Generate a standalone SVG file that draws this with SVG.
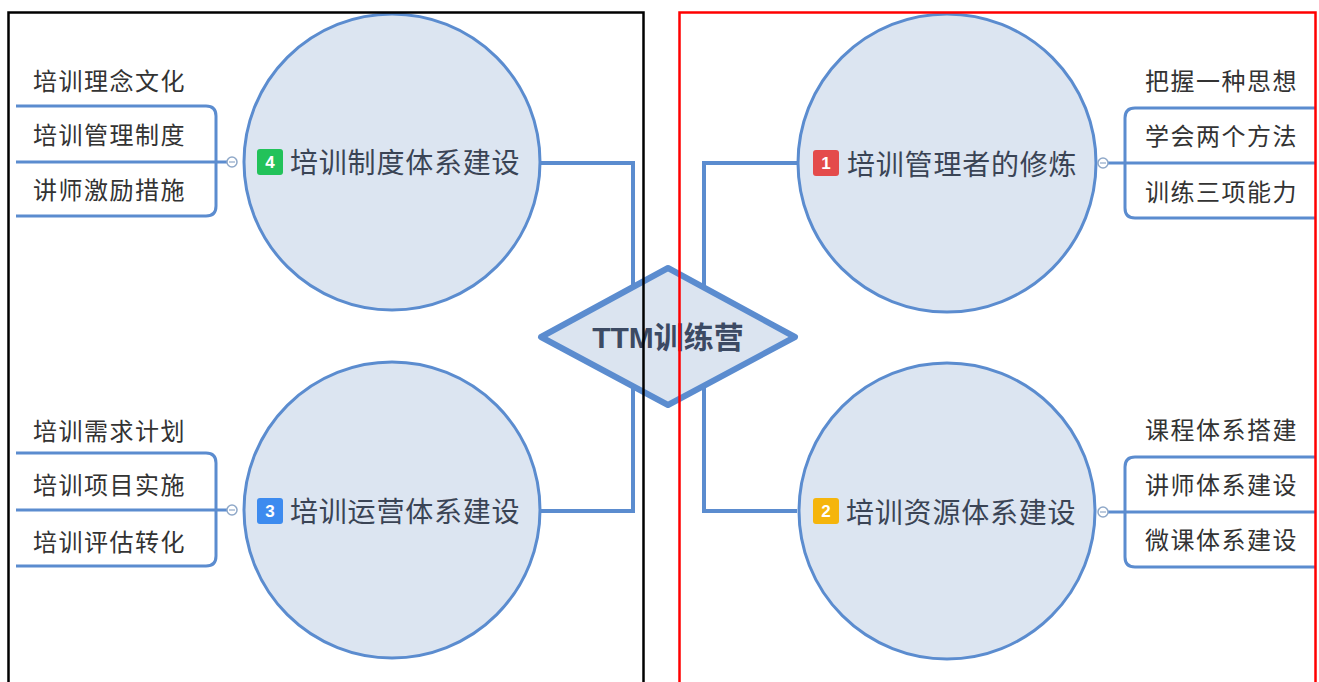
<svg xmlns="http://www.w3.org/2000/svg" width="1319" height="682" viewBox="0 0 1319 682">
<style>
.topic{fill:#dce5f1;stroke:#5b8ccf;stroke-width:3}
.conn{fill:none;stroke:#5b8ccf;stroke-width:4}
.br{fill:none;stroke:#5b8ccf;stroke-width:3}
.sub{font-family:"Noto Sans CJK SC","Liberation Sans",sans-serif;font-size:24px;fill:#333;letter-spacing:1.5px}
.lbl{font-family:"Noto Sans CJK SC","Liberation Sans",sans-serif;font-size:28px;fill:#3a4455;letter-spacing:0.8px}
.num{font-family:"Liberation Sans","Noto Sans",sans-serif;font-size:17px;font-weight:bold;fill:#fff;text-anchor:middle}
.tog{fill:#fff;stroke:#8fa8c8;stroke-width:1.5}
</style>
<rect x="0" y="0" width="1319" height="682" fill="#fff"/>
<g id="connectors">
<path class="conn" d="M540,163 H633 V320"/>
<path class="conn" d="M540,511 H633 V360"/>
<path class="conn" d="M797,163 H704 V320"/>
<path class="conn" d="M797,511 H704 V360"/>
</g>
<g id="center">
<polygon points="541,337 668,268 795,337 668,405" fill="#dbe4f0" stroke="#5b8ccf" stroke-width="6" stroke-linejoin="round"/>
<text x="668" y="348" text-anchor="middle" font-family="'Liberation Sans','Noto Sans CJK SC',sans-serif" font-size="30" font-weight="bold" fill="#3c4a63">TTM训练营</text>
</g>
<g id="topic4">
<circle class="topic" cx="392" cy="162" r="148"/>
<rect x="257" y="149" width="26" height="26" rx="3" fill="#22c25a"/>
<text class="num" x="270" y="168">4</text>
<text class="lbl" x="290" y="173">培训制度体系建设</text>
<path class="br" d="M16,106 H206 Q216,106 216,116 V206 Q216,216 206,216 H16"/>
<path class="br" d="M16,162 H227"/>
<circle class="tog" cx="232" cy="162" r="5"/>
<path d="M229,162 H235" stroke="#8fa8c8" stroke-width="1.2"/>
<text class="sub" x="33" y="90">培训理念文化</text>
<text class="sub" x="33" y="144">培训管理制度</text>
<text class="sub" x="33" y="199">讲师激励措施</text>
</g>
<g id="topic3">
<circle class="topic" cx="392" cy="510" r="148"/>
<rect x="257" y="498" width="26" height="26" rx="3" fill="#3d8bef"/>
<text class="num" x="270" y="517">3</text>
<text class="lbl" x="290" y="522">培训运营体系建设</text>
<path class="br" d="M16,453 H206 Q216,453 216,463 V556 Q216,566 206,566 H16"/>
<path class="br" d="M16,510 H227"/>
<circle class="tog" cx="232" cy="510" r="5"/>
<path d="M229,510 H235" stroke="#8fa8c8" stroke-width="1.2"/>
<text class="sub" x="33" y="440">培训需求计划</text>
<text class="sub" x="33" y="494">培训项目实施</text>
<text class="sub" x="33" y="551">培训评估转化</text>
</g>
<g id="topic1">
<circle class="topic" cx="947" cy="163" r="149"/>
<rect x="813" y="150" width="26" height="26" rx="3" fill="#e44b4b"/>
<text class="num" x="826" y="169">1</text>
<text class="lbl" x="847" y="175">培训管理者的修炼</text>
<path class="br" d="M1316,108 H1135 Q1125,108 1125,118 V208 Q1125,218 1135,218 H1316"/>
<path class="br" d="M1316,163 H1108"/>
<circle class="tog" cx="1103" cy="163" r="5"/>
<path d="M1100,163 H1106" stroke="#8fa8c8" stroke-width="1.2"/>
<text class="sub" x="1145" y="90">把握一种思想</text>
<text class="sub" x="1145" y="145">学会两个方法</text>
<text class="sub" x="1145" y="201">训练三项能力</text>
</g>
<g id="topic2">
<circle class="topic" cx="947" cy="511" r="148"/>
<rect x="813" y="498" width="26" height="26" rx="3" fill="#f5b50c"/>
<text class="num" x="826" y="517">2</text>
<text class="lbl" x="846" y="523">培训资源体系建设</text>
<path class="br" d="M1316,457 H1135 Q1125,457 1125,467 V557 Q1125,567 1135,567 H1316"/>
<path class="br" d="M1316,512 H1108"/>
<circle class="tog" cx="1103" cy="512" r="5"/>
<path d="M1100,512 H1106" stroke="#8fa8c8" stroke-width="1.2"/>
<text class="sub" x="1145" y="439">课程体系搭建</text>
<text class="sub" x="1145" y="494">讲师体系建设</text>
<text class="sub" x="1145" y="549">微课体系建设</text>
</g>
<g id="frames">
<rect x="8.5" y="12.5" width="635" height="690" fill="none" stroke="#000" stroke-width="2.5"/>
<rect x="679.5" y="12.5" width="636" height="690" fill="none" stroke="#ff0000" stroke-width="2.5"/>
</g>
</svg>
